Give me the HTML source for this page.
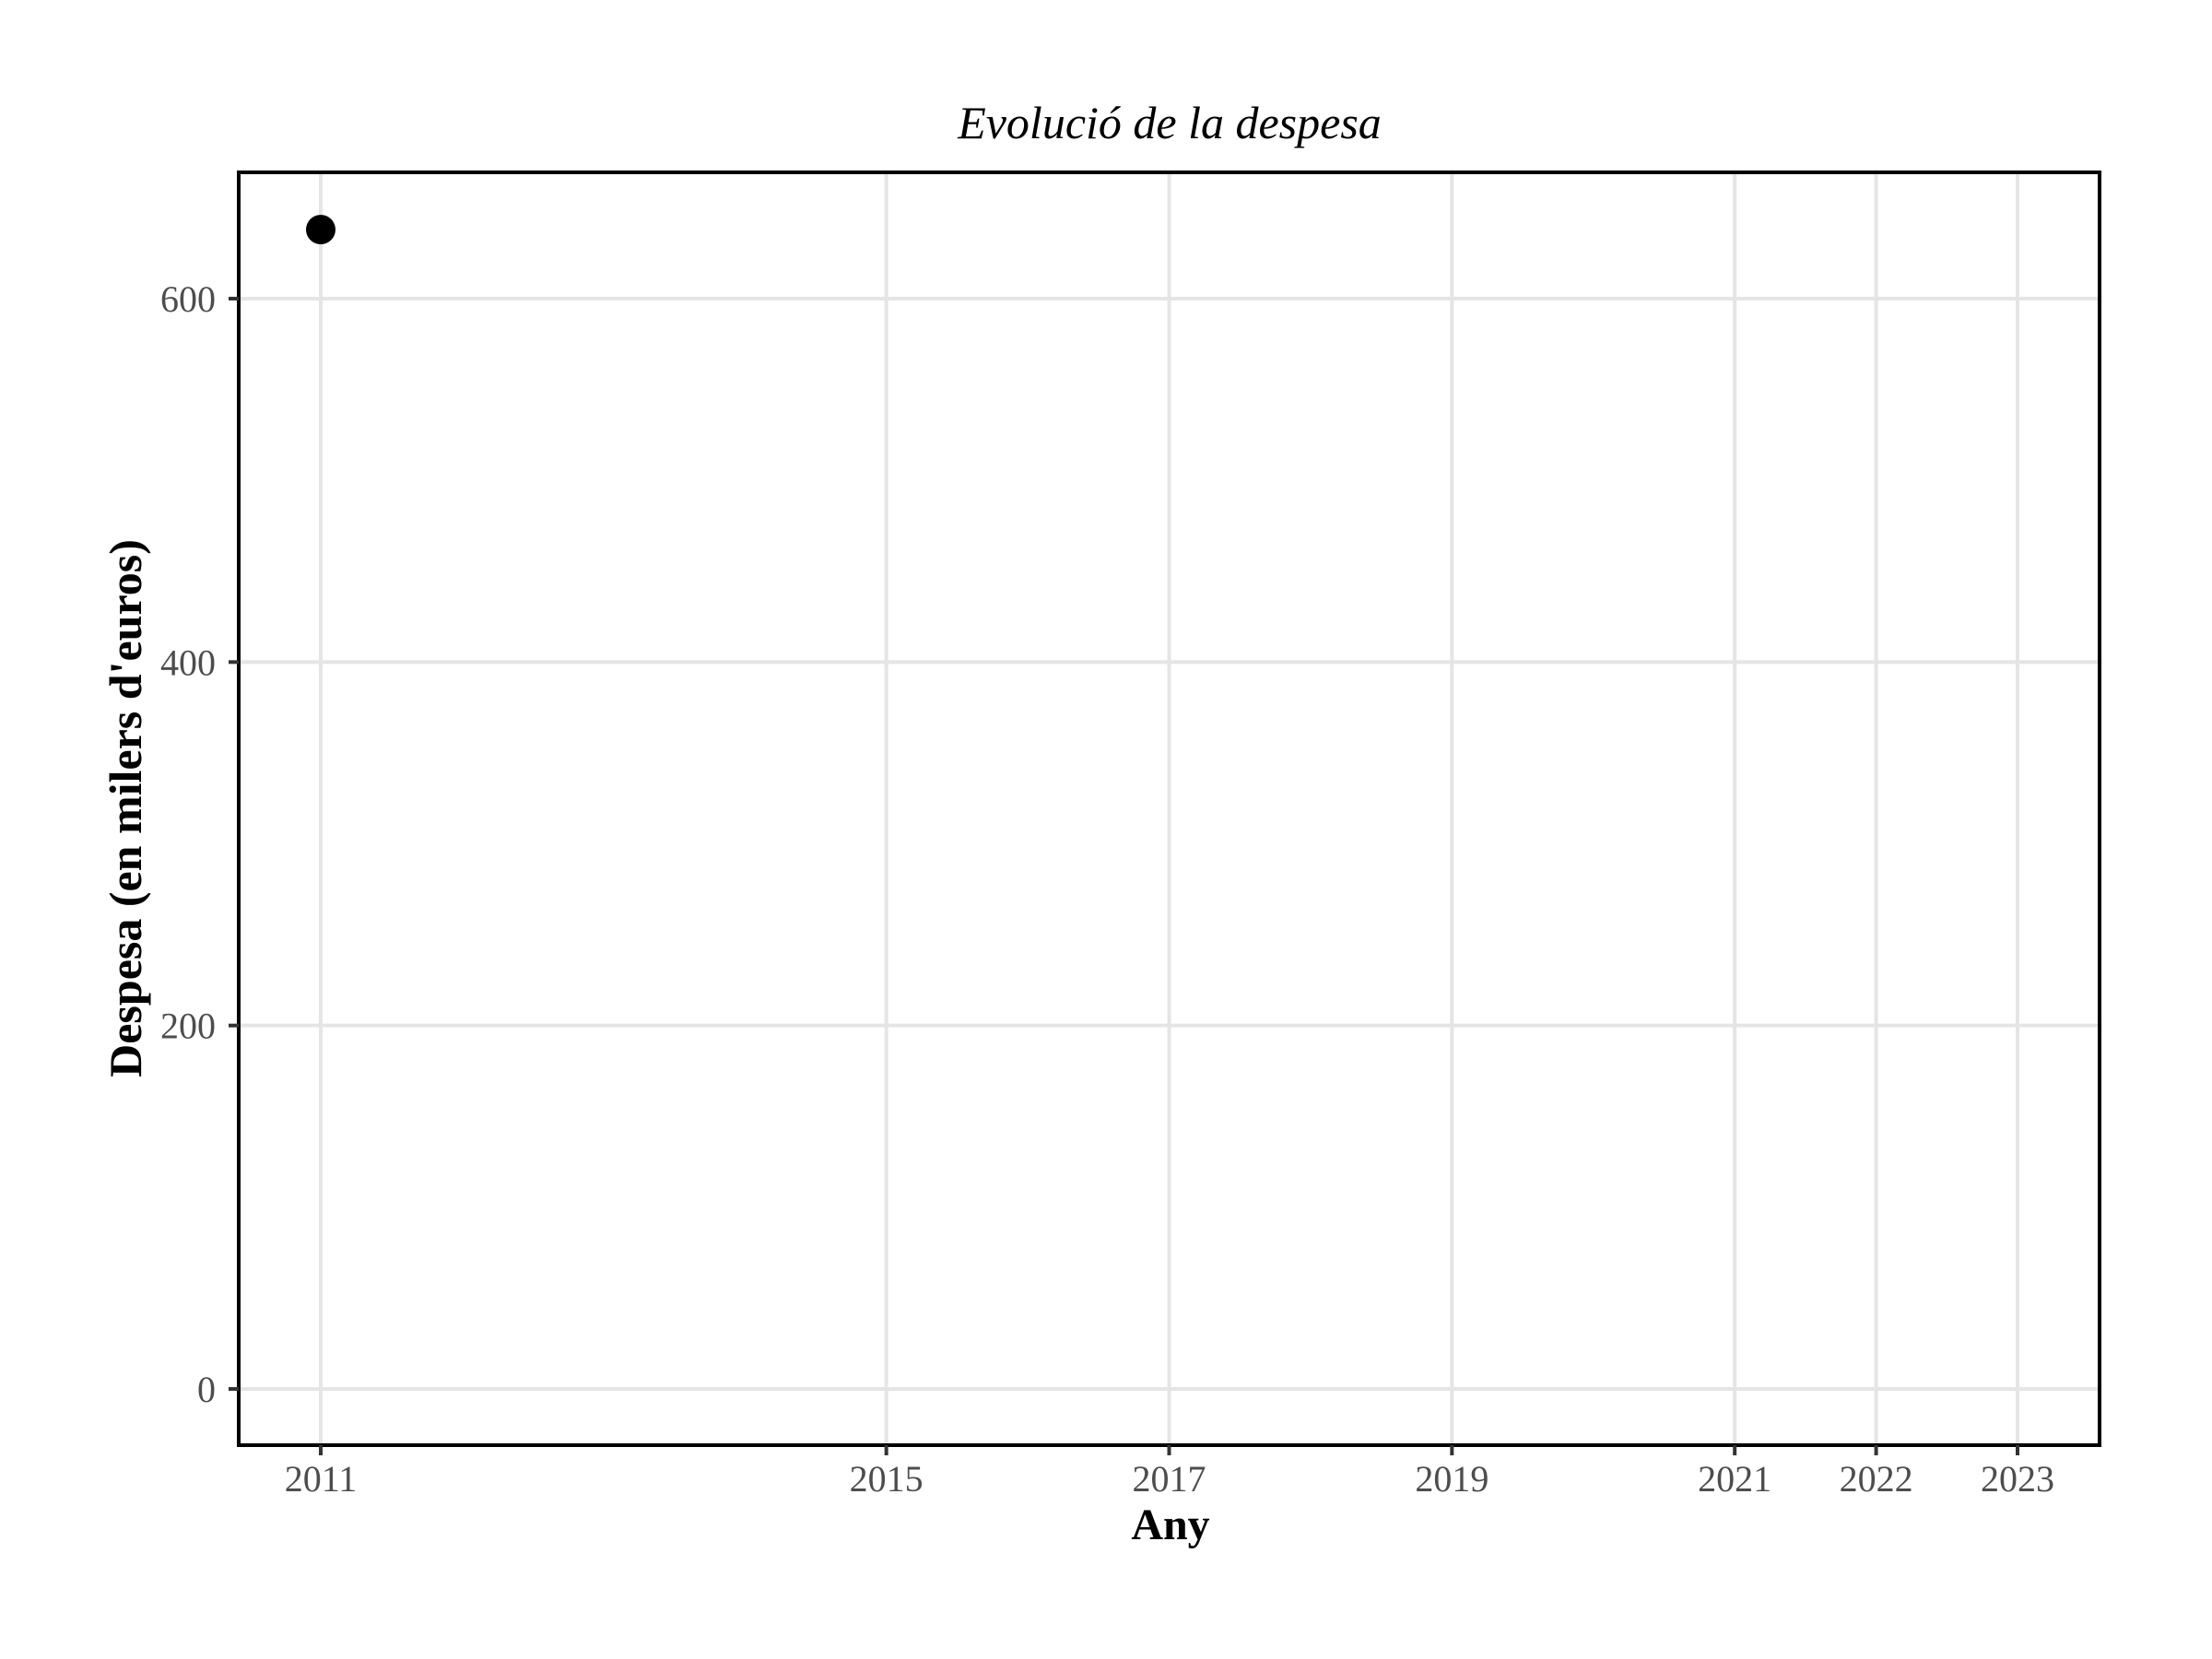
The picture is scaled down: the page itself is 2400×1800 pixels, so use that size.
<!DOCTYPE html>
<html><head><meta charset="utf-8"><style>
html,body{margin:0;padding:0;background:#fff;}
svg{display:block;}
text{font-family:"Liberation Serif","DejaVu Serif",serif;}
</style></head><body>
<svg id="chart" width="2400" height="1800" viewBox="0 0 2400 1800" xmlns="http://www.w3.org/2000/svg">
<rect width="2400" height="1800" fill="#fff"/>
<text x="1269" y="150" font-size="50" font-style="italic" text-anchor="middle" fill="#000">Evolució de la despesa</text>
<g id="grid"></g>
<g id="marks"></g>
<rect x="259" y="187" width="2019" height="1381" fill="none" stroke="#000" stroke-width="4"/>
<g id="axes"></g>
<text x="1270" y="1670" font-size="48" font-weight="bold" text-anchor="middle" fill="#000">Any</text>
<text transform="translate(153,877) rotate(-90)" font-size="50" font-weight="bold" text-anchor="middle" fill="#000">Despesa (en milers d'euros)</text>
</svg>
<script>
const years = [2011];
const despesa = [638];
const xTicks = [2011, 2015, 2017, 2019, 2021, 2022, 2023];
const yTicks = [0, 200, 400, 600];

const NS = "http://www.w3.org/2000/svg";
const L = 259, R = 2278, T = 187, B = 1568;
function xs(v){ return 348 + (v - 2011) * (2189 - 348) / 12; }
function ys(v){ return 1507 - v * (1507 - 324) / 600; }
function mk(tag, attrs, parent){
  const e = document.createElementNS(NS, tag);
  for (const k in attrs) e.setAttribute(k, attrs[k]);
  parent.appendChild(e); return e;
}
const grid = document.getElementById('grid');
const axes = document.getElementById('axes');
const marks = document.getElementById('marks');
yTicks.forEach(v => {
  const y = ys(v);
  const g = mk('line', {x1:L, x2:R, y1:y, y2:y, stroke:'#e5e5e5', 'stroke-width':4}, grid);
  
  
  const t = mk('line', {x1:L-11, x2:L, y1:y, y2:y, stroke:'#333', 'stroke-width':4}, axes);
  
  
  const lb = mk('text', {x:234, y:y+14, 'font-size':40, 'text-anchor':'end', fill:'#4d4d4d'}, axes);
  lb.textContent = v;
  
  
});
xTicks.forEach(v => {
  const x = xs(v);
  const g = mk('line', {x1:x, x2:x, y1:T, y2:B, stroke:'#e5e5e5', 'stroke-width':4}, grid);
  
  
  const t = mk('line', {x1:x, x2:x, y1:B, y2:B+11, stroke:'#333', 'stroke-width':4}, axes);
  
  
  const lb = mk('text', {x:x, y:1618, 'font-size':40, 'text-anchor':'middle', fill:'#4d4d4d'}, axes);
  lb.textContent = v;
  
  
});
years.forEach((yr, i) => {
  const c = mk('circle', {cx:xs(yr), cy:ys(despesa[i]), r:16, fill:'#000'}, marks);
  
  
});
</script>
</body></html>
